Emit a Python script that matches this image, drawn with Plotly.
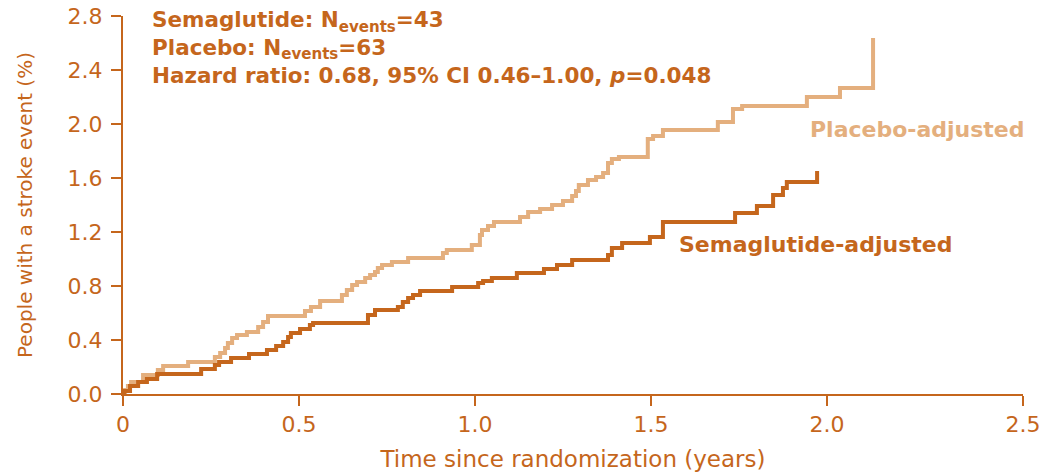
import plotly.graph_objects as go

# Cumulative incidence of stroke (%), adjusted, by time since randomization (years)
placebo_t = [0.000, 0.006, 0.014, 0.023, 0.057, 0.099, 0.114, 0.185, 0.261, 0.276,
             0.290, 0.298, 0.310, 0.324, 0.352, 0.384, 0.398, 0.412, 0.517, 0.534,
             0.560, 0.622, 0.636, 0.651, 0.665, 0.688, 0.702, 0.716, 0.724, 0.736,
             0.764, 0.810, 0.909, 0.920, 0.991, 1.014, 1.020, 1.037, 1.054, 1.128,
             1.151, 1.185, 1.219, 1.250, 1.276, 1.287, 1.295, 1.321, 1.344, 1.364,
             1.378, 1.389, 1.409, 1.491, 1.506, 1.534, 1.690, 1.733, 1.759, 1.943,
             2.037, 2.131]
placebo_pct = [0.000, 0.030, 0.059, 0.089, 0.141, 0.178, 0.207, 0.237, 0.274, 0.304,
               0.341, 0.378, 0.415, 0.437, 0.459, 0.496, 0.533, 0.578, 0.615, 0.644,
               0.689, 0.733, 0.770, 0.807, 0.830, 0.859, 0.881, 0.904, 0.933, 0.956,
               0.978, 1.007, 1.044, 1.067, 1.104, 1.178, 1.215, 1.244, 1.274, 1.311,
               1.348, 1.370, 1.400, 1.430, 1.467, 1.504, 1.548, 1.585, 1.607, 1.637,
               1.711, 1.741, 1.756, 1.889, 1.911, 1.956, 2.015, 2.111, 2.133, 2.200,
               2.267, 2.637]

sema_t = [0.000, 0.003, 0.020, 0.043, 0.068, 0.097, 0.222, 0.261, 0.273, 0.307,
          0.358, 0.409, 0.435, 0.455, 0.469, 0.477, 0.503, 0.531, 0.540, 0.696,
          0.716, 0.781, 0.795, 0.810, 0.824, 0.844, 0.935, 1.009, 1.023, 1.048,
          1.119, 1.196, 1.233, 1.276, 1.378, 1.389, 1.418, 1.497, 1.534, 1.739,
          1.801, 1.847, 1.875, 1.886, 1.972]
sema_pct = [0.000, 0.022, 0.059, 0.089, 0.111, 0.148, 0.185, 0.215, 0.237, 0.267,
            0.296, 0.326, 0.356, 0.385, 0.422, 0.452, 0.481, 0.511, 0.526, 0.585,
            0.622, 0.644, 0.681, 0.711, 0.733, 0.763, 0.793, 0.822, 0.837, 0.859,
            0.896, 0.926, 0.956, 0.993, 1.030, 1.081, 1.119, 1.163, 1.274, 1.341,
            1.393, 1.474, 1.526, 1.570, 1.652]

x_tick_vals = [0, 0.5, 1.0, 1.5, 2.0, 2.557]
x_tick_text = ["0", "0.5", "1.0", "1.5", "2.0", "2.5"]
y_tick_vals = [0.0, 0.4, 0.8, 1.2, 1.6, 2.0, 2.4, 2.8]

DARK = "#C5661C"
LIGHT = "#E4AF7E"
FONT = "DejaVu Sans"

fig = go.Figure()
fig.add_trace(go.Scatter(x=placebo_t, y=placebo_pct, mode="lines",
                         line=dict(color=LIGHT, width=4, shape="hv"),
                         name="Placebo-adjusted", hoverinfo="skip"))
fig.add_trace(go.Scatter(x=sema_t, y=sema_pct, mode="lines",
                         line=dict(color=DARK, width=4, shape="hv"),
                         name="Semaglutide-adjusted", hoverinfo="skip"))

fig.add_annotation(
    xref="paper", yref="paper", x=0.03, y=1.028, xanchor="left", yanchor="top",
    align="left", showarrow=False,
    font=dict(family=FONT, size=21.5, color=DARK),
    text=("<b>Semaglutide: N<sub>events</sub>=43</b><br>"
          "<b>Placebo: N<sub>events</sub>=63</b><br>"
          "<b>Hazard ratio: 0.68, 95% CI 0.46\u20131.00, <i>p</i>=0.048</b>"),
)
fig.add_annotation(x=1.946, y=1.956, xanchor="left", yanchor="middle", showarrow=False,
                   text="<b>Placebo-adjusted</b>",
                   font=dict(family=FONT, size=22, color=LIGHT))
fig.add_annotation(x=1.574, y=1.104, xanchor="left", yanchor="middle", showarrow=False,
                   text="<b>Semaglutide-adjusted</b>",
                   font=dict(family=FONT, size=22, color=DARK))

axis_common = dict(showline=True, linecolor=DARK, linewidth=2, ticks="outside",
                   ticklen=10, tickwidth=2, tickcolor=DARK, showgrid=False,
                   zeroline=False, automargin=False,
                   tickfont=dict(family=FONT, size=22, color=DARK))

fig.update_xaxes(range=[0, 2.557], tickvals=x_tick_vals, ticktext=x_tick_text,
                 title=dict(text="Time since randomization (years)",
                            font=dict(family=FONT, size=23, color=DARK), standoff=14),
                 **axis_common)
fig.update_yaxes(range=[0, 2.8], tickvals=y_tick_vals, tickformat=".1f",
                 ticklabelstandoff=4,
                 title=dict(text="People with a stroke event (%)",
                            font=dict(family=FONT, size=20, color=DARK),
                            standoff=30),
                 **axis_common)

fig.update_layout(width=1043, height=472, margin=dict(l=123, r=20, t=16, b=78),
                  plot_bgcolor="white", paper_bgcolor="white", showlegend=False)

fig.write_html("out.html")
